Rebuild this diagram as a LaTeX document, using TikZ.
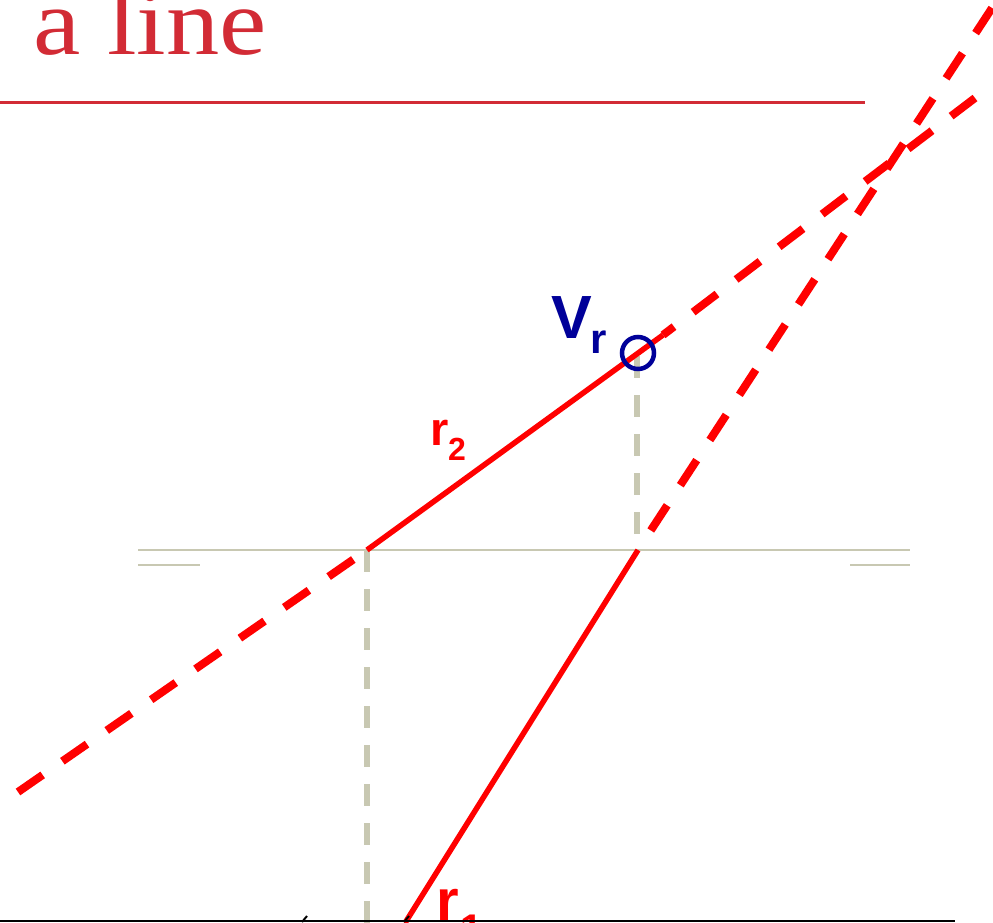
\documentclass[tikz,border=0pt]{standalone}
\usepackage{fontspec}
\setmainfont{Liberation Serif}
\newfontfamily\arialfont{Liberation Sans}
\definecolor{titlered}{HTML}{D22B35}
\definecolor{linered}{HTML}{FF0000}
\definecolor{navy}{HTML}{000099}
\definecolor{sage}{HTML}{C8C8B2}
\tikzset{
  solidred/.style={draw=linered, line width=5.5pt},
  dashred/.style={draw=linered, line width=8pt, dash pattern=on 30pt off 24pt},
  greyrule/.style={draw=sage, line width=2.5pt},
  greydash/.style={draw=sage, line width=6pt, dash pattern=on 22pt off 17pt},
  lbl/.style={inner sep=0pt, anchor=base west},
}
\begin{document}
\begin{tikzpicture}[x=1pt, y=-1pt]
\useasboundingbox (0,0) rectangle (993,923);
\clip (0,0) rectangle (993,923);
% title
\node[lbl, text=titlered, font=\fontsize{95}{95}\selectfont, xscale=1.12] (title) at (33,55) {a line};
\coordinate (ruleA) at (0,103);
\coordinate (ruleB) at (865,103);
\draw[draw=titlered, line width=3pt] (ruleA) -- (ruleB);
% grey horizontal rules
\coordinate (hA) at (138,550);
\coordinate (hB) at (910,550);
\draw[greyrule] (hA) -- (hB);
\coordinate (hC) at (138,565);
\coordinate (hD) at (200,565);
\draw[greyrule] (hC) -- (hD);
\coordinate (hE) at (850,565);
\coordinate (hF) at (910,565);
\draw[greyrule] (hE) -- (hF);
% key points
\coordinate (P2) at (367,550);
\coordinate (Q2) at (663,335);
\coordinate (P1) at (638,550);
\coordinate (Q1) at (405,923);
\coordinate (L2end) at (18,792);
\coordinate (U2end) at (975,98);
\coordinate (U1end) at (992,8);
% grey vertical dashes
\coordinate (vL) at (367,923);
\coordinate (vRtop) at (637,356);
\coordinate (vRbot) at (637,550);
\draw[greydash] (P2) -- (vL);
\draw[greydash] (vRtop) -- (vRbot);
% red lines
\draw[solidred] (P2) -- (Q2);
\draw[solidred] (P1) -- (Q1);
\draw[dashred] (L2end) -- (P2);
\draw[dashred] (U2end) -- (Q2);
\draw[dashred] (U1end) -- (P1);
% Vr marker
\node[circle, draw=navy, line width=4.5pt, minimum size=32pt, inner sep=0pt] (vr) at (638,353) {};
\node[lbl, text=navy, font=\arialfont\bfseries\fontsize{61}{61}\selectfont] (Vlab) at (551,338) {V};
\node[lbl, text=navy, font=\arialfont\bfseries\fontsize{42}{42}\selectfont] (Vsub) at (590,353) {r};
% r2 label
\node[lbl, text=linered, font=\arialfont\bfseries\fontsize{47}{47}\selectfont] (r2) at (430,445) {r};
\node[lbl, text=linered, font=\arialfont\bfseries\fontsize{32}{32}\selectfont] (r2s) at (448,460) {2};
% r1 label
\node[lbl, text=linered, font=\arialfont\bfseries\fontsize{58}{58}\selectfont] (r1) at (436,920) {r};
\node[lbl, text=linered, font=\arialfont\bfseries\fontsize{40}{40}\selectfont] (r1s) at (460,942) {1};
% bottom black rule and ticks
\coordinate (bA) at (0,921);
\coordinate (bB) at (955,921);
\draw[black, line width=2.5pt] (bA) -- (bB);
\draw[black, line width=2pt] (302,922) -- (307,916);
\draw[black, line width=2pt] (404,922) -- (409,916);
\end{tikzpicture}
\end{document}
